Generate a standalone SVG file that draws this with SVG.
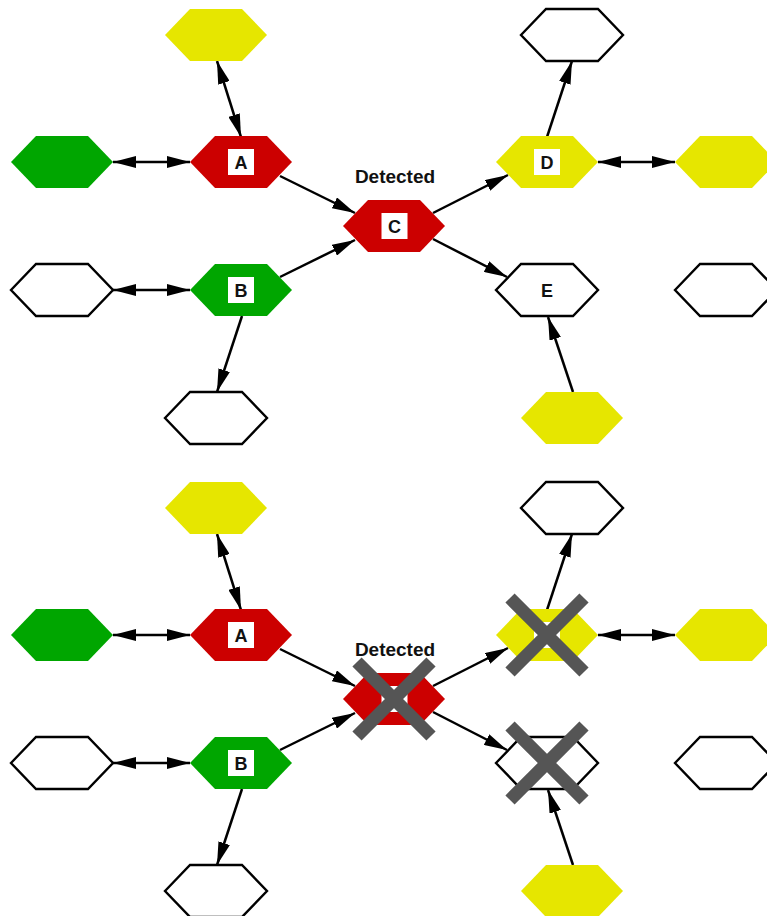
<svg xmlns="http://www.w3.org/2000/svg" xmlns:xlink="http://www.w3.org/1999/xlink" width="767" height="916" viewBox="0 0 767 916">
<style>
.red{fill:#cc0000;stroke:none}
.green{fill:#00a600;stroke:none}
.yellow{fill:#e6e600;stroke:none}
.white{fill:#ffffff;stroke:#000000;stroke-width:2.4}
.lbox{fill:#ffffff;stroke:none}
.lbl{font-family:"Liberation Sans",Arial,sans-serif;font-weight:bold;font-size:18px;fill:#111;text-anchor:middle}
.det{font-family:"Liberation Sans",Arial,sans-serif;font-weight:bold;font-size:19px;fill:#111;text-anchor:middle}
.edge{fill:none;stroke:#000;stroke-width:2.5}
.one{marker-end:url(#ah)}
.two{marker-start:url(#ah);marker-end:url(#ah)}
.x{stroke:#555555;stroke-width:13;fill:none}
</style>
<defs>
<polygon id="hex" points="-51,0 -26,-26 26,-26 51,0 26,26 -26,26"/>
<marker id="ah" viewBox="0 0 23 12" refX="23" refY="6" markerWidth="23" markerHeight="12" markerUnits="userSpaceOnUse" orient="auto-start-reverse">
<path d="M0,0 L23,6 L0,12 z" fill="#000"/>
</marker>
</defs>
<rect width="767" height="916" fill="#ffffff"/>

<!-- Top panel -->
<g id="edges-top">
<line class="edge two" x1="217" y1="61" x2="241" y2="137"/>
<line class="edge two" x1="113" y1="162" x2="190" y2="162"/>
<line class="edge one" x1="280" y1="176" x2="355" y2="213"/>
<line class="edge two" x1="113" y1="290" x2="190" y2="290"/>
<line class="edge one" x1="280" y1="277" x2="355" y2="240"/>
<line class="edge one" x1="242" y1="316" x2="217" y2="392"/>
<line class="edge one" x1="433" y1="213" x2="508" y2="175"/>
<line class="edge one" x1="433" y1="239" x2="507" y2="277"/>
<line class="edge one" x1="547" y1="137" x2="572" y2="61"/>
<line class="edge two" x1="598" y1="162" x2="675" y2="162"/>
<line class="edge one" x1="573" y1="392" x2="548" y2="317"/>
</g>
<g id="t-top-yellow"><use xlink:href="#hex" href="#hex" class="yellow" x="216" y="35"/></g>
<g id="t-left-green"><use xlink:href="#hex" href="#hex" class="green" x="62" y="162"/></g>
<g id="t-A"><use xlink:href="#hex" href="#hex" class="red" x="241" y="162"/><rect class="lbox" x="228" y="149" width="26" height="26"/><text class="lbl" x="241" y="168.5">A</text></g>
<g id="t-D"><use xlink:href="#hex" href="#hex" class="yellow" x="547" y="162"/><rect class="lbox" x="534" y="149" width="26" height="26"/><text class="lbl" x="547" y="168.5">D</text></g>
<g id="t-top-right-white"><use xlink:href="#hex" href="#hex" class="white" x="572" y="35"/></g>
<g id="t-right-yellow"><use xlink:href="#hex" href="#hex" class="yellow" x="726" y="162"/></g>
<g id="t-C"><use xlink:href="#hex" href="#hex" class="red" x="394" y="226"/><rect class="lbox" x="381.5" y="213" width="26" height="26"/><text class="lbl" x="394.5" y="232.5">C</text><text class="det" x="395" y="182.5">Detected</text></g>
<g id="t-left-white"><use xlink:href="#hex" href="#hex" class="white" x="62" y="290"/></g>
<g id="t-B"><use xlink:href="#hex" href="#hex" class="green" x="241" y="290"/><rect class="lbox" x="228" y="277" width="26" height="26"/><text class="lbl" x="241" y="296.5">B</text></g>
<g id="t-E"><use xlink:href="#hex" href="#hex" class="white" x="547" y="290"/><text class="lbl" x="547" y="296.5">E</text></g>
<g id="t-right-white"><use xlink:href="#hex" href="#hex" class="white" x="726" y="290"/></g>
<g id="t-bottom-white"><use xlink:href="#hex" href="#hex" class="white" x="216" y="418"/></g>
<g id="t-bottom-yellow"><use xlink:href="#hex" href="#hex" class="yellow" x="572" y="418"/></g>

<!-- Bottom panel -->
<g id="edges-bottom" transform="translate(0,473)">
<line class="edge two" x1="217" y1="61" x2="241" y2="137"/>
<line class="edge two" x1="113" y1="162" x2="190" y2="162"/>
<line class="edge one" x1="280" y1="176" x2="355" y2="213"/>
<line class="edge two" x1="113" y1="290" x2="190" y2="290"/>
<line class="edge one" x1="280" y1="277" x2="355" y2="240"/>
<line class="edge one" x1="242" y1="316" x2="217" y2="392"/>
<line class="edge one" x1="433" y1="213" x2="508" y2="175"/>
<line class="edge one" x1="433" y1="239" x2="507" y2="277"/>
<line class="edge one" x1="547" y1="137" x2="572" y2="61"/>
<line class="edge two" x1="598" y1="162" x2="675" y2="162"/>
<line class="edge one" x1="573" y1="392" x2="548" y2="317"/>
</g>
<g id="b-top-yellow"><use xlink:href="#hex" href="#hex" class="yellow" x="216" y="508"/></g>
<g id="b-left-green"><use xlink:href="#hex" href="#hex" class="green" x="62" y="635"/></g>
<g id="b-A"><use xlink:href="#hex" href="#hex" class="red" x="241" y="635"/><rect class="lbox" x="228" y="622" width="26" height="26"/><text class="lbl" x="241" y="641.5">A</text></g>
<g id="b-D"><use xlink:href="#hex" href="#hex" class="yellow" x="547" y="635"/><rect class="lbox" x="534" y="622" width="26" height="26"/><path class="x" d="M510,598 L584,672 M584,598 L510,672"/></g>
<g id="b-top-right-white"><use xlink:href="#hex" href="#hex" class="white" x="572" y="508"/></g>
<g id="b-right-yellow"><use xlink:href="#hex" href="#hex" class="yellow" x="726" y="635"/></g>
<g id="b-C"><use xlink:href="#hex" href="#hex" class="red" x="394" y="699"/><rect class="lbox" x="381.5" y="686" width="26" height="26"/><text class="det" x="395" y="655.5">Detected</text><path class="x" d="M357,662 L431,736 M431,662 L357,736"/></g>
<g id="b-left-white"><use xlink:href="#hex" href="#hex" class="white" x="62" y="763"/></g>
<g id="b-B"><use xlink:href="#hex" href="#hex" class="green" x="241" y="763"/><rect class="lbox" x="228" y="750" width="26" height="26"/><text class="lbl" x="241" y="769.5">B</text></g>
<g id="b-E"><use xlink:href="#hex" href="#hex" class="white" x="547" y="763"/><path class="x" d="M510,726 L584,800 M584,726 L510,800"/></g>
<g id="b-right-white"><use xlink:href="#hex" href="#hex" class="white" x="726" y="763"/></g>
<g id="b-bottom-white"><use xlink:href="#hex" href="#hex" class="white" x="216" y="891"/></g>
<g id="b-bottom-yellow"><use xlink:href="#hex" href="#hex" class="yellow" x="572" y="891"/></g>
</svg>
